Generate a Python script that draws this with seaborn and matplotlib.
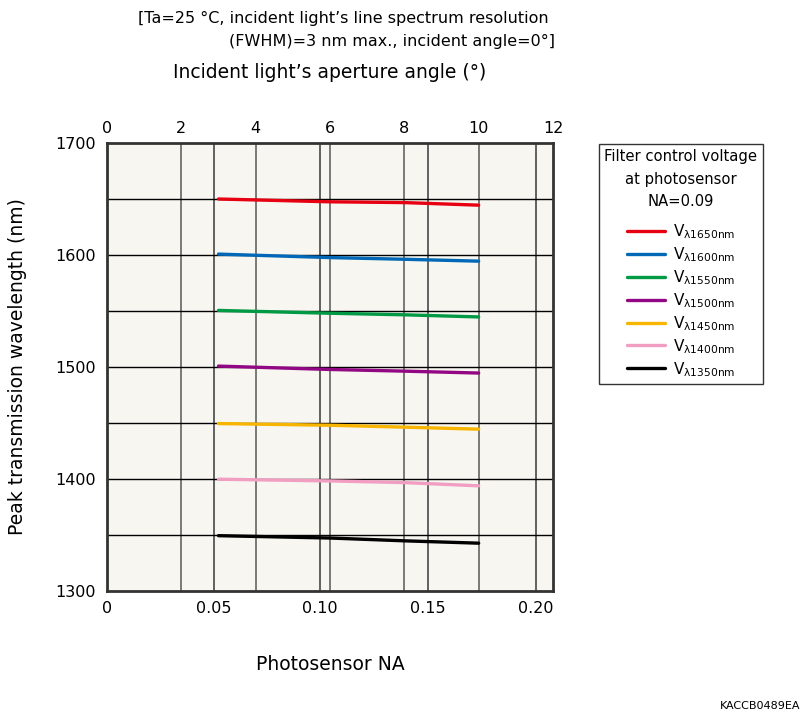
import numpy as np
import pandas as pd
import matplotlib
matplotlib.use("Agg")
import matplotlib.pyplot as plt
import seaborn as sns

# incident aperture angle (deg) at which the curves were measured
angles = [3, 6, 8, 10]

# peak transmission wavelength (nm) per filter control voltage
series_names = ["1650", "1600", "1550", "1500", "1450", "1400", "1350"]
peak_1650 = [1650.0, 1647.5, 1646.8, 1644.5]
peak_1600 = [1600.8, 1597.7, 1596.2, 1594.5]
peak_1550 = [1550.5, 1548.0, 1546.6, 1544.7]
peak_1500 = [1500.8, 1497.8, 1496.3, 1494.6]
peak_1450 = [1449.5, 1448.0, 1446.3, 1444.5]
peak_1400 = [1399.8, 1398.3, 1396.8, 1393.9]
peak_1350 = [1349.4, 1347.3, 1344.8, 1342.7]

colors = ["#e60012", "#0068b7", "#009944", "#920783", "#f8b500", "#f19ec2", "#000000"]

angle_ticks = [0, 2, 4, 6, 8, 10, 12]
na_ticks = [0, 0.05, 0.10, 0.15, 0.20]
na_labels = ["0", "0.05", "0.10", "0.15", "0.20"]
y_ticks = [1300, 1400, 1500, 1600, 1700]

all_peaks = [peak_1650, peak_1600, peak_1550, peak_1500, peak_1450, peak_1400, peak_1350]
rows = []
for name, vals in zip(series_names, all_peaks):
    label = "V$_{\\mathregular{λ" + name + "nm}}$"
    for a, v in zip(angles, vals):
        rows.append({"angle": a, "peak": v, "series": label})
df = pd.DataFrame(rows)
labels = df["series"].unique().tolist()
palette = dict(zip(labels, colors))

sns.set_style("white")
plt.rcParams["font.family"] = ["DejaVu Sans"]
plt.rcParams.update({"text.color": "black", "axes.labelcolor": "black",
                     "xtick.color": "black", "ytick.color": "black"})

fig = plt.figure(figsize=(8.03, 7.15), dpi=100)
ax = fig.add_axes([107 / 803, 1 - 591 / 715, 446 / 803, 448 / 715])
ax.set_facecolor("#f7f6f0")

# grid
for a in angle_ticks[1:-1]:
    ax.axvline(a, color="#6f6f6f", lw=1.3, zorder=1)
for n in na_ticks[1:]:
    ax.axvline(np.degrees(np.arcsin(n)), color="#555555", lw=1.3, zorder=1)
for y in np.arange(1350, 1700, 50):
    ax.axhline(y, color="black", lw=1.0, zorder=1)

sns.lineplot(data=df, x="angle", y="peak", hue="series", hue_order=labels,
             palette=palette, lw=2.4, ax=ax, zorder=3)

ax.set_xlim(0, 12)
ax.set_ylim(1300, 1700)
ax.set_yticks(y_ticks)
ax.tick_params(axis="y", labelsize=11.5, length=0, pad=8)
ax.xaxis.tick_top()
ax.set_xticks(angle_ticks)
ax.tick_params(axis="x", labelsize=11.5, length=0, pad=5)
ax.set_xlabel("")
ax.set_ylabel("Peak transmission wavelength (nm)", fontsize=13.5, labelpad=20)
for s in ax.spines.values():
    s.set_color("#333333")
    s.set_linewidth(2)

sec = ax.secondary_xaxis("bottom", functions=(lambda a: np.sin(np.radians(a)),
                                              lambda n: np.degrees(np.arcsin(np.clip(n, -1, 1)))))
sec.set_xticks(na_ticks)
sec.set_xticklabels(na_labels)
sec.tick_params(labelsize=11.5, length=0, pad=7)
sec.spines["bottom"].set_visible(False)

handles, lbls = ax.get_legend_handles_labels()
leg = ax.legend(handles, lbls,
                title="Filter control voltage\nat photosensor\nNA=0.09",
                loc="upper left", bbox_to_anchor=(599 / 803, 1 - 144 / 715),
                bbox_transform=fig.transFigure, fontsize=11, title_fontsize=10.6,
                frameon=True, fancybox=False, edgecolor="black", handlelength=2.5,
                handletextpad=0.5, labelspacing=0.28, borderpad=0.35, borderaxespad=0)
leg.get_frame().set_linewidth(1.0)
leg.get_title().set_multialignment("center")
leg.get_title().set_linespacing(1.6)
leg._legend_box.sep = 9.5  # a bit more room under the title
for h in leg.legend_handles:
    h.set_linewidth(2.4)

fig.text(549 / 803, 1 - 18 / 715, "[Ta=25 °C, incident light’s line spectrum resolution",
         ha="right", va="center", fontsize=11.5)
fig.text(555 / 803, 1 - 41 / 715, "(FWHM)=3 nm max., incident angle=0°]",
         ha="right", va="center", fontsize=11.5)
fig.text(330 / 803, 1 - 73 / 715, "Incident light’s aperture angle (°)",
         ha="center", va="center", fontsize=13.5)
fig.text(330 / 803, 1 - 664 / 715, "Photosensor NA",
         ha="center", va="center", fontsize=13.5)
fig.text(800 / 803, 1 - 706 / 715, "KACCB0489EA",
         ha="right", va="center", fontsize=8)

fig.savefig("out.png", dpi=100)
